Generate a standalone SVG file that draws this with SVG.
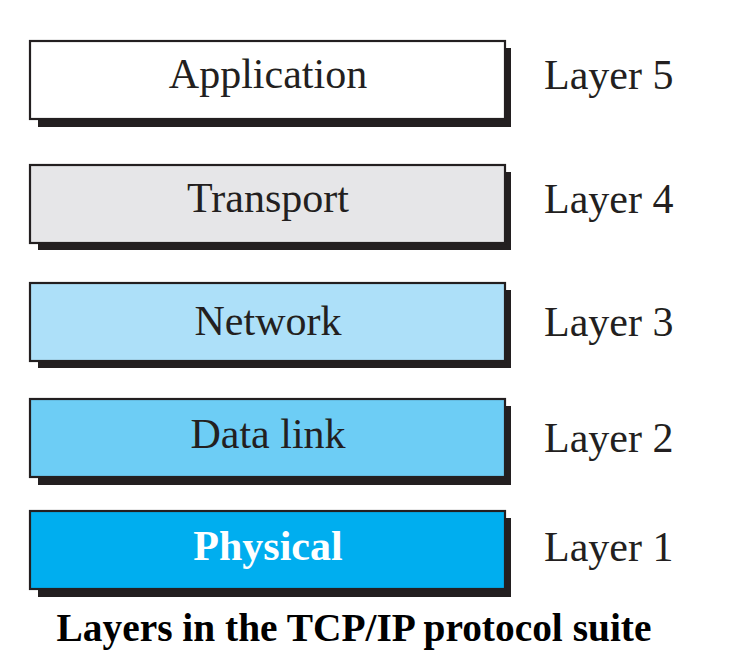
<svg xmlns="http://www.w3.org/2000/svg" width="739" height="669" viewBox="0 0 739 669">
<style>
.sh{fill:#231f20}
.bx{stroke:#231f20;stroke-width:2.2}
.t{font-family:"Liberation Serif","Times New Roman",serif;font-size:42px;fill:#231f20;text-anchor:middle}
.l{font-family:"Liberation Serif","Times New Roman",serif;font-size:42px;fill:#231f20}
.ttl{font-family:"Liberation Serif","Times New Roman",serif;font-size:39.4px;font-weight:bold;fill:#000;text-anchor:middle}
</style>
<rect width="739" height="669" fill="#fff"/>
<g id="application">
<rect class="sh" x="38" y="48" width="473" height="79"/>
<rect class="bx" x="30" y="41" width="475" height="78" fill="#ffffff"/>
<text class="t" x="268" y="88">Application</text>
</g>
<g id="transport">
<rect class="sh" x="38" y="172" width="473" height="78"/>
<rect class="bx" x="30" y="165" width="475" height="78" fill="#e6e6e8"/>
<text class="t" x="268" y="212">Transport</text>
</g>
<g id="network">
<rect class="sh" x="38" y="290" width="473" height="78"/>
<rect class="bx" x="30" y="283" width="475" height="78" fill="#ade0f9"/>
<text class="t" x="268" y="335">Network</text>
</g>
<g id="datalink">
<rect class="sh" x="38" y="406" width="473" height="79"/>
<rect class="bx" x="30" y="399" width="475" height="78" fill="#6dcdf5"/>
<text class="t" x="268" y="448">Data link</text>
</g>
<g id="physical">
<rect class="sh" x="38" y="518" width="473" height="79"/>
<rect class="bx" x="30" y="511" width="475" height="78" fill="#00aeef"/>
<text class="t" x="268" y="560" style="font-weight:bold;fill:#fff">Physical</text>
</g>
<g id="labels">
<text class="l" x="544" y="89">Layer 5</text>
<text class="l" x="544" y="213">Layer 4</text>
<text class="l" x="544" y="336">Layer 3</text>
<text class="l" x="544" y="452">Layer 2</text>
<text class="l" x="544" y="561">Layer 1</text>
</g>
<g id="connectors"/>
<text class="ttl" x="354" y="641">Layers in the TCP/IP protocol suite</text>
</svg>
